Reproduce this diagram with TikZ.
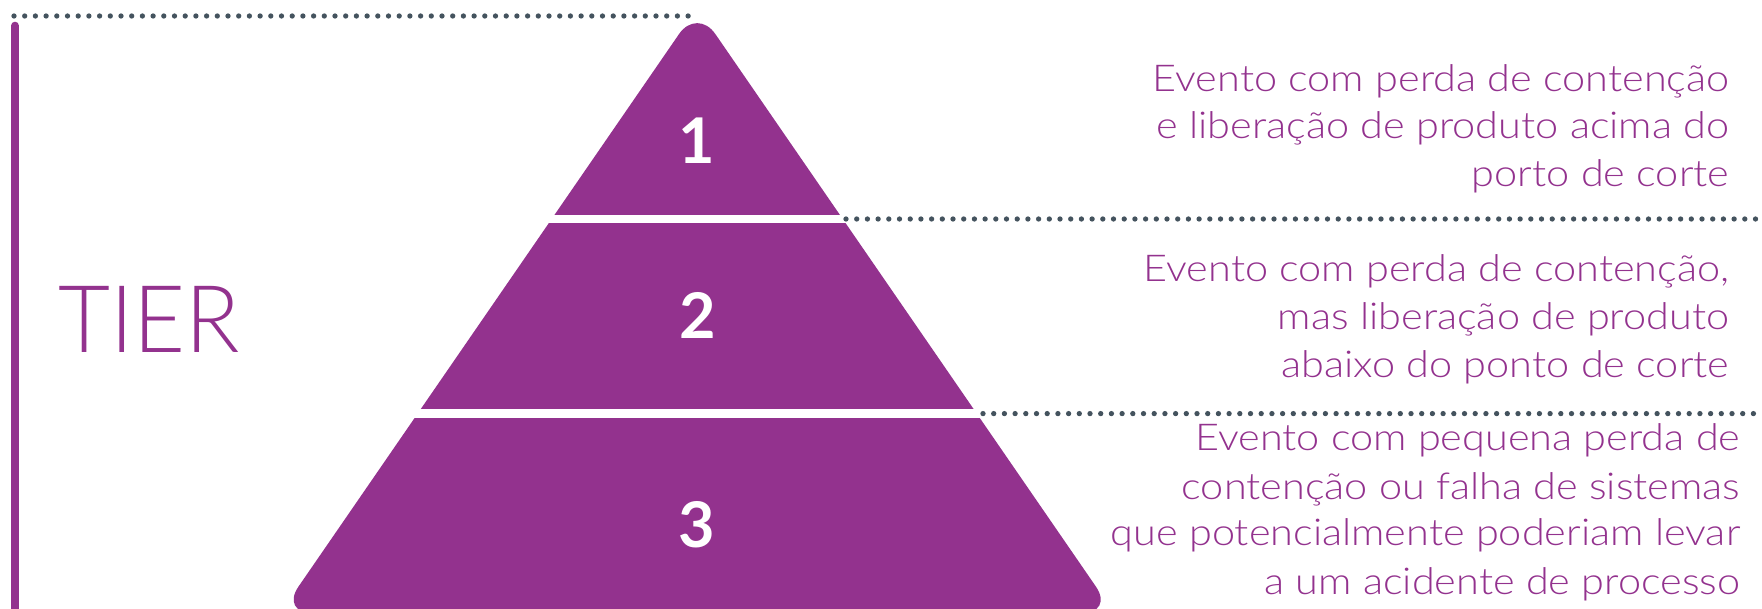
\documentclass[tikz,border=0pt]{standalone}
\usepackage{fontspec}
\setmainfont{Lato}
\newfontfamily\descfont{Lato Light}[FakeStretch=1.12]
\newfontfamily\tierfont{Lato Light}[FakeStretch=0.96]
\definecolor{tierpurple}{HTML}{93328E}
\definecolor{dotgray}{HTML}{44535E}
\begin{document}
\begin{tikzpicture}[x=1pt,y=-1pt,
  desc/.style={anchor=base east, inner sep=0pt, text=tierpurple, font=\descfont\fontsize{37}{44}\selectfont},
  num/.style={anchor=base, inner sep=0pt, text=white, font=\fontsize{63}{70}\selectfont\bfseries},
  dotline/.style={draw=dotgray, line width=5.3pt, line cap=round, dash pattern=on 0pt off 10.7pt}]
\useasboundingbox (0,0) rectangle (1762,609);
% pyramid
\coordinate (apex) at (697.2,7.7);
\coordinate (bl) at (280.3,613);
\coordinate (br) at (1114.1,613);
\coordinate (bm) at (697.2,613);
\fill[tierpurple, rounded corners=32pt] (bm) -- (br) -- (apex) -- (bl) -- cycle;
\fill[white] (530,214.8) rectangle (860,223.3);
\fill[white] (400,409) rectangle (1000,418);
% left bar
\coordinate (bartop) at (15,25.7);
\coordinate (barbot) at (15,620);
\draw[tierpurple, line width=8pt, line cap=round] (bartop) -- (barbot);
% dotted lines
\coordinate (l0a) at (14,16);   \coordinate (l0b) at (689,16);
\coordinate (l1a) at (846,219); \coordinate (l1b) at (1762,219);
\coordinate (l2a) at (983,413.6); \coordinate (l2b) at (1762,413.6);
\draw[dotline] (l0a) -- (l0b);
\draw[dotline] (l1a) -- (l1b);
\draw[dotline] (l2a) -- (l2b);
% numbers
\node[num] (n1) at (697,163.3) {1};
\node[num] (n2) at (698,338.6) {2};
\node[num] (n3) at (697,547.6) {3};
% TIER
\node[anchor=base west, inner sep=0pt, text=tierpurple, font=\tierfont\fontsize{93.5}{100}\selectfont] (tier) at (58,352.6) {TIER};
% descriptions
\node[desc] (d1a) at (1729.5,91.3) {Evento com perda de contenção};
\node[desc] (d1b) at (1729.5,138.6) {e liberação de produto acima do};
\node[desc] (d1c) at (1729.5,186.4) {porto de corte};
\node[desc] (d2a) at (1729.5,281.6) {Evento com perda de contenção,};
\node[desc] (d2b) at (1729.5,330) {mas liberação de produto};
\node[desc] (d2c) at (1729.5,377.5) {abaixo do ponto de corte};
\node[desc] (d3a) at (1740.5,450.5) {Evento com pequena perda de};
\node[desc] (d3b) at (1740.5,499) {contenção ou falha de sistemas};
\node[desc] (d3c) at (1740.5,545.6) {que potencialmente poderiam levar};
\node[desc] (d3d) at (1740.5,594.2) {a um acidente de processo};
\end{tikzpicture}
\end{document}
